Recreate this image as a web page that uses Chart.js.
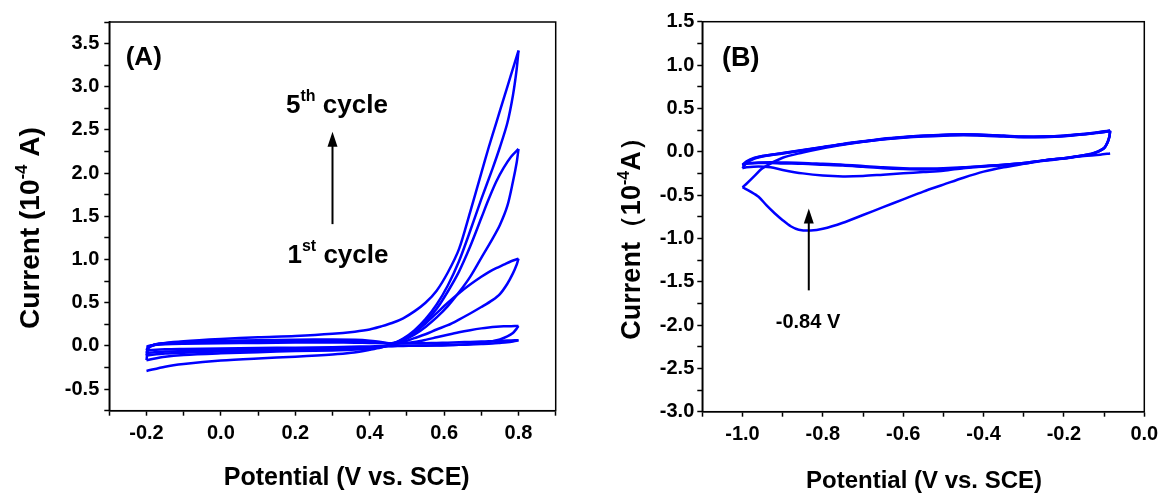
<!DOCTYPE html>
<html>
<head>
<meta charset="utf-8">
<script src="https://cdn.jsdelivr.net/npm/chart.js@4.4.1/dist/chart.umd.min.js"></script>
<style>
  html, body { margin: 0; padding: 0; background: #fff; }
  .panel { position: absolute; top: 0; width: 586px; height: 497px; }
  #panelA { left: 0; }
  #panelB { left: 586px; }
</style>
</head>
<body>
<div class="panel" id="panelA"><canvas id="chartA"></canvas></div>
<div class="panel" id="panelB"><canvas id="chartB"></canvas></div>
<script>
// ---------- Panel A: 5 cycles, potential grids (V) shared by the sweeps ----------
const aFwdE = [-0.2, -0.195, -0.18, -0.15, -0.1, 0.0, 0.1, 0.2, 0.3, 0.36, 0.4, 0.43, 0.46, 0.49, 0.52, 0.55, 0.58, 0.61, 0.64, 0.67, 0.7, 0.72, 0.74, 0.76, 0.78, 0.8];
const aRevE = [0.8, 0.795, 0.785, 0.77, 0.75, 0.73, 0.7, 0.67, 0.64, 0.61, 0.58, 0.55, 0.52, 0.49, 0.46, 0.43, 0.4, 0.35, 0.3, 0.2, 0.1, 0.0, -0.1, -0.15, -0.2];

// current (1e-4 A), forward sweeps
const aFwd1 = [-0.01, 0.0, 0.01, 0.02, 0.025, 0.03, 0.035, 0.04, 0.04, 0.038, 0.035, 0.032, 0.03, 0.03, 0.03, 0.032, 0.035, 0.038, 0.042, 0.046, 0.05, 0.053, 0.056, 0.06, 0.063, 0.066];
const aFwd2 = [-0.05, -0.01, 0.01, 0.025, 0.035, 0.045, 0.05, 0.055, 0.055, 0.05, 0.045, 0.038, 0.03, 0.032, 0.045, 0.07, 0.1, 0.13, 0.158, 0.182, 0.203, 0.214, 0.222, 0.227, 0.229, 0.23];
const aFwd3 = [-0.08, -0.015, 0.015, 0.03, 0.04, 0.05, 0.055, 0.06, 0.06, 0.055, 0.05, 0.04, 0.03, 0.07, 0.15, 0.26, 0.38, 0.5, 0.61, 0.71, 0.8, 0.855, 0.9, 0.94, 0.98, 1.01];
const aFwd4 = [-0.11, -0.02, 0.01, 0.03, 0.045, 0.058, 0.066, 0.072, 0.075, 0.07, 0.06, 0.045, 0.03, 0.08, 0.16, 0.28, 0.43, 0.63, 0.86, 1.15, 1.48, 1.7, 1.9, 2.06, 2.19, 2.28];
const aFwd5 = [-0.165, -0.03, 0.01, 0.035, 0.055, 0.08, 0.1, 0.115, 0.14, 0.165, 0.19, 0.225, 0.265, 0.32, 0.4, 0.5, 0.64, 0.85, 1.12, 1.55, 2.0, 2.3, 2.58, 2.86, 3.14, 3.42];

// current (1e-4 A), reverse sweeps
const aRev1 = [0.066, 0.06, 0.052, 0.043, 0.035, 0.028, 0.022, 0.017, 0.013, 0.01, 0.007, 0.005, 0.003, 0.001, 0.0, -0.003, -0.006, -0.01, -0.014, -0.02, -0.025, -0.03, -0.036, -0.04, -0.05];
const aRev2 = [0.23, 0.2, 0.15, 0.11, 0.075, 0.055, 0.035, 0.022, 0.014, 0.008, 0.005, 0.003, 0.001, 0.0, -0.003, -0.008, -0.015, -0.022, -0.028, -0.036, -0.043, -0.05, -0.058, -0.065, -0.08];
const aRev3 = [1.01, 0.94, 0.84, 0.72, 0.6, 0.53, 0.45, 0.375, 0.305, 0.24, 0.19, 0.135, 0.09, 0.045, 0.01, -0.015, -0.025, -0.035, -0.04, -0.048, -0.056, -0.065, -0.078, -0.088, -0.11];
const aRev4 = [2.28, 2.12, 1.9, 1.62, 1.4, 1.24, 1.02, 0.8, 0.62, 0.46, 0.33, 0.22, 0.13, 0.065, 0.02, -0.01, -0.03, -0.045, -0.052, -0.06, -0.072, -0.086, -0.105, -0.125, -0.165];
const aRev5 = [3.42, 3.2, 2.9, 2.58, 2.3, 2.05, 1.7, 1.33, 0.98, 0.7, 0.48, 0.31, 0.18, 0.085, 0.02, -0.02, -0.045, -0.08, -0.1, -0.125, -0.145, -0.17, -0.21, -0.24, -0.29];

// ---------- Panel B ----------
// first cathodic sweep with the -0.84 V peak
const bPeakE = [-0.085, -0.11, -0.15, -0.2, -0.25, -0.3, -0.35, -0.4, -0.45, -0.5, -0.55, -0.6, -0.65, -0.7, -0.75, -0.8, -0.83, -0.86, -0.88, -0.9, -0.92, -0.94, -0.96, -0.98, -1.0];
const bPeakI = [-0.02, -0.035, -0.05, -0.075, -0.1, -0.14, -0.18, -0.23, -0.3, -0.38, -0.46, -0.55, -0.64, -0.73, -0.82, -0.89, -0.91, -0.9, -0.86, -0.79, -0.71, -0.62, -0.52, -0.46, -0.41];

const bFwdE = [-1.0, -0.99, -0.97, -0.95, -0.9, -0.85, -0.8, -0.75, -0.7, -0.65, -0.6, -0.55, -0.5, -0.45, -0.4, -0.35, -0.3, -0.25, -0.2, -0.15, -0.12, -0.1, -0.085];
const bRevE = [-0.085, -0.087, -0.092, -0.1, -0.115, -0.13, -0.15, -0.2, -0.25, -0.3, -0.35, -0.4, -0.45, -0.5, -0.55, -0.6, -0.65, -0.7, -0.75, -0.8, -0.85, -0.9, -0.93, -0.96, -0.99, -1.0];

const bFwd1 = [-0.41, -0.37, -0.28, -0.19, -0.07, -0.01, 0.04, 0.08, 0.115, 0.14, 0.16, 0.175, 0.185, 0.19, 0.185, 0.175, 0.168, 0.168, 0.178, 0.2, 0.215, 0.225, 0.235];
const bRev2 = [0.235, 0.17, 0.1, 0.04, 0.0, -0.025, -0.045, -0.075, -0.1, -0.13, -0.15, -0.17, -0.19, -0.22, -0.235, -0.25, -0.265, -0.28, -0.285, -0.275, -0.25, -0.21, -0.18, -0.17, -0.18, -0.19];
const bFwd2 = [-0.19, -0.13, -0.08, -0.055, -0.02, 0.015, 0.05, 0.085, 0.115, 0.145, 0.165, 0.18, 0.19, 0.195, 0.19, 0.18, 0.17, 0.172, 0.18, 0.2, 0.218, 0.23, 0.24];
const bRev3 = [0.24, 0.17, 0.1, 0.04, 0.0, -0.025, -0.04, -0.075, -0.1, -0.13, -0.15, -0.165, -0.18, -0.19, -0.195, -0.19, -0.18, -0.165, -0.15, -0.14, -0.13, -0.125, -0.123, -0.125, -0.135, -0.15];
const bFwd3 = [-0.15, -0.11, -0.07, -0.05, -0.015, 0.02, 0.055, 0.09, 0.12, 0.15, 0.17, 0.185, 0.195, 0.2, 0.195, 0.185, 0.175, 0.175, 0.185, 0.205, 0.22, 0.235, 0.245];
const bRev4 = [0.245, 0.175, 0.105, 0.045, 0.005, -0.02, -0.04, -0.08, -0.105, -0.135, -0.155, -0.17, -0.185, -0.2, -0.205, -0.2, -0.19, -0.175, -0.16, -0.15, -0.14, -0.135, -0.13, -0.13, -0.14, -0.16];
const bFwd4 = [-0.16, -0.12, -0.075, -0.05, -0.018, 0.018, 0.052, 0.087, 0.118, 0.148, 0.168, 0.183, 0.193, 0.198, 0.193, 0.183, 0.173, 0.174, 0.183, 0.203, 0.22, 0.232, 0.243];

// ---------- ticks ----------
const aXTicks = [-0.3, -0.2, -0.1, 0.0, 0.1, 0.2, 0.3, 0.4, 0.5, 0.6, 0.7, 0.8, 0.9];
const aXLabels = ['', '-0.2', '', '0.0', '', '0.2', '', '0.4', '', '0.6', '', '0.8', ''];
const aYTicks = [-0.75, -0.5, -0.25, 0.0, 0.25, 0.5, 0.75, 1.0, 1.25, 1.5, 1.75, 2.0, 2.25, 2.5, 2.75, 3.0, 3.25, 3.5, 3.75];
const aYLabels = ['', '-0.5', '', '0.0', '', '0.5', '', '1.0', '', '1.5', '', '2.0', '', '2.5', '', '3.0', '', '3.5', ''];
const bXTicks = [-1.1, -1.0, -0.9, -0.8, -0.7, -0.6, -0.5, -0.4, -0.3, -0.2, -0.1, 0.0];
const bXLabels = ['', '-1.0', '', '-0.8', '', '-0.6', '', '-0.4', '', '-0.2', '', '0.0'];
const bYTicks = [-3.0, -2.75, -2.5, -2.25, -2.0, -1.75, -1.5, -1.25, -1.0, -0.75, -0.5, -0.25, 0.0, 0.25, 0.5, 0.75, 1.0, 1.25, 1.5];
const bYLabels = ['-3.0', '', '-2.5', '', '-2.0', '', '-1.5', '', '-1.0', '', '-0.5', '', '0.0', '', '0.5', '', '1.0', '', '1.5'];

const FONT = "'Liberation Sans', Arial, sans-serif";
const BLUE = '#0000ff';

function sweep(E, I) {
    return E.map((e, i) => ({ x: e, y: I[i] }));
}

function lineSet(E, I) {
    return {
        data: sweep(E, I),
        showLine: true,
        borderColor: BLUE,
        borderWidth: 2.5,
        pointRadius: 0,
        tension: 0.3,
        fill: false
    };
}

function axis(min, max, ticks, labels, pad, fit) {
    return {
        type: 'linear',
        min: min,
        max: max,
        afterBuildTicks: s => { s.ticks = ticks.map(v => ({ value: v })); },
        afterFit: fit,
        ticks: {
            autoSkip: false,
            maxRotation: 0,
            padding: pad,
            color: '#000',
            font: { family: FONT, size: 20, weight: 'bold' },
            callback: (v, i) => labels[i]
        },
        grid: { drawOnChartArea: false, tickLength: 5, tickColor: '#000', tickWidth: 1.5 },
        border: { display: true, color: '#000', width: 1.5 }
    };
}

// text with superscripts: parts = [text, size, raise]
function rich(ctx, parts, x, y, align) {
    let w = 0;
    parts.forEach(p => { ctx.font = 'bold ' + p[1] + 'px ' + FONT; w += ctx.measureText(p[0]).width; });
    let cx = align === 'center' ? x - w / 2 : x;
    parts.forEach(p => {
        ctx.font = 'bold ' + p[1] + 'px ' + FONT;
        ctx.fillText(p[0], cx, y - (p[2] || 0));
        cx += ctx.measureText(p[0]).width;
    });
}

function arrow(ctx, x, yTail, yTip) {
    ctx.lineWidth = 2;
    ctx.beginPath();
    ctx.moveTo(x, yTail);
    ctx.lineTo(x, yTip + 10);
    ctx.stroke();
    ctx.beginPath();
    ctx.moveTo(x, yTip);
    ctx.lineTo(x - 5, yTip + 15);
    ctx.lineTo(x + 5, yTip + 15);
    ctx.closePath();
    ctx.fill();
}

function frame(ctx, a) {
    ctx.lineWidth = 1.5;
    ctx.strokeRect(a.left, a.top, a.right - a.left, a.bottom - a.top);
}

const decorA = {
    id: 'decorA',
    afterDraw(chart) {
        const { ctx, chartArea, scales: { x, y } } = chart;
        ctx.save();
        ctx.fillStyle = '#000';
        ctx.strokeStyle = '#000';
        ctx.textAlign = 'left';
        ctx.textBaseline = 'alphabetic';
        frame(ctx, chartArea);
        rich(ctx, [['(A)', 26]], 125.7, 65, 'left');
        rich(ctx, [['5', 26], ['th', 16, 12], [' cycle', 26]], 286, 113, 'left');
        rich(ctx, [['1', 26], ['st', 16, 12], [' cycle', 26]], 287.5, 263, 'left');
        arrow(ctx, x.getPixelForValue(0.3), y.getPixelForValue(1.41), y.getPixelForValue(2.48));
        rich(ctx, [['Potential (V vs. SCE)', 25]], 346.7, 485, 'center');
        ctx.translate(38.5, 228);
        ctx.rotate(-Math.PI / 2);
        rich(ctx, [['Current (10', 28], ['-4', 17, 12], [' A)', 28]], 0, 0, 'center');
        ctx.restore();
    }
};

const decorB = {
    id: 'decorB',
    afterDraw(chart) {
        const { ctx, chartArea, scales: { x, y } } = chart;
        ctx.save();
        ctx.fillStyle = '#000';
        ctx.strokeStyle = '#000';
        ctx.textAlign = 'left';
        ctx.textBaseline = 'alphabetic';
        frame(ctx, chartArea);
        rich(ctx, [['(B)', 27]], 135.9, 66, 'left');
        arrow(ctx, x.getPixelForValue(-0.835), y.getPixelForValue(-1.6), y.getPixelForValue(-0.655));
        rich(ctx, [['-0.84 V', 20]], 222, 328, 'center');
        rich(ctx, [['Potential (V vs. SCE)', 24]], 338, 488, 'center');
        ctx.translate(53.5, 232);
        ctx.rotate(-Math.PI / 2);
        rich(ctx, [['Current（10', 27], ['-4', 16, 11], ['A）', 27]], 0, 0, 'center');
        ctx.restore();
    }
};

const baseOptions = (padding, xScale, yScale) => ({
    responsive: true,
    maintainAspectRatio: false,
    animation: false,
    devicePixelRatio: 1,
    layout: { padding: padding },
    plugins: { legend: { display: false }, tooltip: { enabled: false } },
    scales: { x: xScale, y: yScale }
});

document.addEventListener('DOMContentLoaded', function() {
    // Panel A: electropolymerisation cycles
    new Chart(document.getElementById('chartA'), {
        type: 'scatter',
        data: {
            datasets: [
                lineSet(aFwdE, aFwd1), lineSet(aRevE, aRev1),
                lineSet(aFwdE, aFwd2), lineSet(aRevE, aRev2),
                lineSet(aFwdE, aFwd3), lineSet(aRevE, aRev3),
                lineSet(aFwdE, aFwd4), lineSet(aRevE, aRev4),
                lineSet(aFwdE, aFwd5), lineSet(aRevE, aRev5)
            ]
        },
        options: baseOptions(
            { top: 22, right: 30.3, bottom: 0, left: 0 },
            axis(-0.3, 0.9, aXTicks, aXLabels, 6, s => { s.height = 86.3; }),
            axis(-0.75, 3.75, aYTicks, aYLabels, 5, s => { s.width = 109.3; })
        ),
        plugins: [decorA]
    });

    // Panel B: reduction scan
    new Chart(document.getElementById('chartB'), {
        type: 'scatter',
        data: {
            datasets: [
                lineSet(bPeakE, bPeakI), lineSet(bFwdE, bFwd1),
                lineSet(bRevE, bRev2), lineSet(bFwdE, bFwd2),
                lineSet(bRevE, bRev3), lineSet(bFwdE, bFwd3),
                lineSet(bRevE, bRev4), lineSet(bFwdE, bFwd4)
            ]
        },
        options: baseOptions(
            { top: 21.7, right: 27.7, bottom: 0, left: 0 },
            axis(-1.1, 0.0, bXTicks, bXLabels, 6, s => { s.height = 85.3; }),
            axis(-3.0, 1.5, bYTicks, bYLabels, 3, s => { s.width = 116.3; })
        ),
        plugins: [decorB]
    });
});
</script>
</body>
</html>
